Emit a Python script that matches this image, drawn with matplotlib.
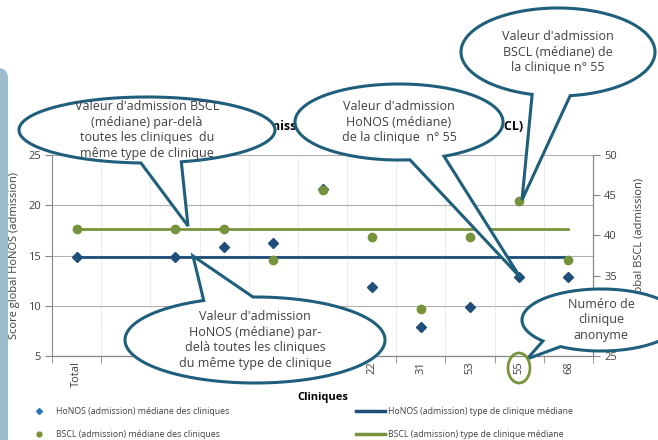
import numpy as np
import matplotlib
matplotlib.use("Agg")
import matplotlib.pyplot as plt
from matplotlib.patches import Ellipse, PathPatch, FancyBboxPatch
from matplotlib.path import Path
from matplotlib.lines import Line2D

plt.rcParams['font.family'] = ['Open Sans', 'DejaVu Sans']

# data
cliniques = ["Total", "", "10", "13", "16", "19", "22", "31", "53", "55", "68"]
honos_cliniques = [14.9, np.nan, 14.9, 15.8, 16.2, 21.6, 11.9, 7.9, 9.9, 12.9, 12.9]
bscl_cliniques = [40.8, np.nan, 40.8, 40.8, 36.9, 45.7, 39.8, 30.8, 39.8, 44.3, 36.9]
honos_type = 14.9
bscl_type = 40.8

BLUE = "#1f4e79"
GREEN = "#77933c"
EDGE = "#1f5f7c"
GRID = "#b0b0b0"
TXT = "#404040"

W, H = 658, 440
fig = plt.figure(figsize=(W / 100, H / 100), dpi=100, facecolor="white")

# main axes placed in pixels
x0, x1, y0, y1 = 52, 593, 155, 356
ax = fig.add_axes([x0 / W, 1 - y1 / H, (x1 - x0) / W, (y1 - y0) / H])
ax2 = ax.twinx()

idx = np.arange(len(cliniques))
ax.plot(idx, [honos_type] * len(idx), color=BLUE, lw=2, zorder=3)
ax.plot(idx, honos_cliniques, ls="none", marker="D", ms=5, color=BLUE, zorder=4)
ax2.plot(idx, [bscl_type] * len(idx), color=GREEN, lw=2, zorder=3)
ax2.plot(idx, bscl_cliniques, ls="none", marker="o", ms=6, color=GREEN, zorder=4)

ax.set_xlim(-0.5, len(cliniques) - 0.5)
ax.set_ylim(5, 25)
ax2.set_ylim(25, 50)
ax.set_yticks([5, 10, 15, 20, 25])
ax2.set_yticks([25, 30, 35, 40, 45, 50])

ax.set_xticks(idx)
ax.set_xticklabels(cliniques, rotation=90)
ax.set_xticks(np.arange(-0.5, len(cliniques)), minor=True)
ax.tick_params(axis="x", which="major", length=0, pad=4, labelsize=8, labelcolor=TXT)
ax.tick_params(axis="x", which="minor", length=5, color="#868686")
ax.tick_params(axis="y", length=5, color="#868686", labelsize=8, labelcolor=TXT, pad=3)
ax2.tick_params(axis="y", length=5, color="#868686", labelsize=8, labelcolor=TXT, pad=3)

ax.grid(True, axis="y", color=GRID, lw=0.8)
ax.grid(True, axis="x", which="minor", color="#cfcfcf", lw=0.7, ls=":")
for a in (ax, ax2):
    a.spines["top"].set_visible(False)
    for s in ("left", "right", "bottom"):
        a.spines[s].set_color("#868686")
ax2.spines["left"].set_visible(False)

ax.set_ylabel("Score global HoNOS (admission)", fontsize=8, color=TXT)
ax.yaxis.set_label_coords((20 - x0) / (x1 - x0), 0.5)
ax2.set_ylabel("Score global BSCL (admission)", fontsize=8, color=TXT)
ax2.yaxis.set_label_coords((634 - x0) / (x1 - x0), 0.5)
ax.set_xlabel("Cliniques", fontsize=8, fontweight="bold", color="black")
ax.xaxis.set_label_coords(0.5, -(397 - y1) / (y1 - y0))
ax.xaxis.label.set_va("center")

ax2.set_title("Score global HoNOS (admission) et score global (admission BSCL)",
              fontsize=9, fontweight="bold", pad=18)

handles = [
    Line2D([], [], ls="none", marker="D", ms=3, color="#2e75b6"),
    Line2D([], [], ls="none", marker="o", ms=3.5, color=GREEN),
    Line2D([], [], color=BLUE, lw=2.5),
    Line2D([], [], color=GREEN, lw=2.5),
]
labels = [
    "HoNOS (admission) médiane des cliniques",
    "BSCL (admission) médiane des cliniques",
    "HoNOS (admission) type de clinique médiane",
    "BSCL (admission) type de clinique médiane",
]
fig.legend(handles, labels, loc="upper left", bbox_to_anchor=(20 / W, 1 - 403 / H),
           ncol=2, frameon=False, fontsize=6.3, handlelength=3.3, handletextpad=0.3,
           columnspacing=14.5, labelspacing=1.6, labelcolor=TXT, borderpad=0)

# overlay in pixel coordinates for the callouts
ov = fig.add_axes([0, 0, 1, 1], zorder=10)
ov.set_xlim(0, W)
ov.set_ylim(H, 0)
ov.set_axis_off()

ov.add_patch(FancyBboxPatch((-20, 68), 28, 400, boxstyle="round,pad=0,rounding_size=10",
                            fc="#9dbdcf", ec="none"))


def callout(cx, cy, w, h, base, tip, text):
    a = [np.arctan2((py - cy) / (h / 2), (px - cx) / (w / 2)) for px, py in base]
    a1, a2 = min(a), max(a)
    t = np.linspace(a2, a1 + 2 * np.pi, 200)
    pts = np.column_stack([cx + w / 2 * np.cos(t), cy + h / 2 * np.sin(t)])
    pts = np.vstack([pts, tip, pts[:1]])
    codes = [Path.MOVETO] + [Path.LINETO] * (len(pts) - 2) + [Path.CLOSEPOLY]
    ov.add_patch(PathPatch(Path(pts, codes), fc="white", ec=EDGE, lw=2.2, joinstyle="miter"))
    ov.text(cx, cy, text, ha="center", va="center", fontsize=9, color=TXT, linespacing=1.25)


callout(147, 130, 256, 66, [(140, 168), (188, 168)], (188, 226),
        "Valeur d'admission BSCL\n(médiane) par-delà\ntoutes les cliniques  du\nmême type de clinique")
callout(255, 340, 260, 86, [(207, 303), (253, 297)], (193, 256),
        "Valeur d'admission\nHoNOS (médiane) par-\ndelà toutes les cliniques\ndu même type de clinique")
callout(399, 122, 208, 76, [(410, 160), (445, 157)], (520, 277),
        "Valeur d'admission\nHoNOS (médiane)\nde la clinique  n° 55")
callout(558, 52, 194, 88, [(533, 93), (570, 95)], (522, 200),
        "Valeur d'admission\nBSCL (médiane) de\nla clinique n° 55")
callout(601, 320, 158, 62, [(543, 341), (563, 345)], (527, 359),
        "Numéro de\nclinique\nanonyme")

ov.add_patch(Ellipse((519, 368), 22, 30, fc="none", ec=GREEN, lw=2))

fig.savefig("out.png", dpi=100, facecolor="white")
